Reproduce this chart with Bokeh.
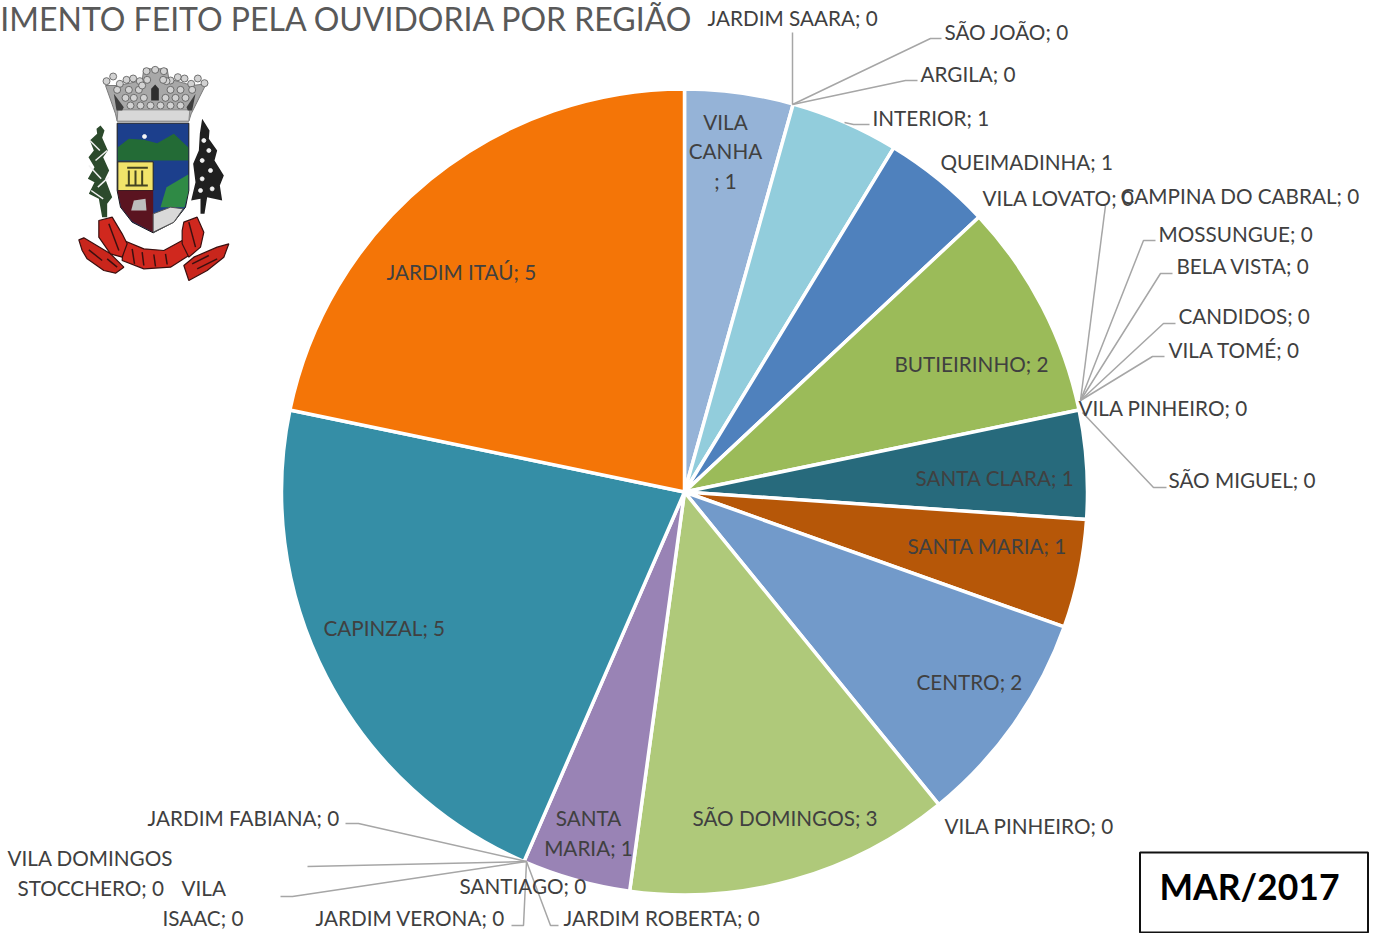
from math import pi
from bokeh.plotting import figure
from bokeh.models import ColumnDataSource, Range1d
from bokeh.core.properties import value
from bokeh.embed import file_html
from bokeh.resources import INLINE

W, H = 1376, 933

# ---- data (clockwise from the top) ----
categories = ["VILA CANHA", "JARDIM SAARA", "SÃO JOÃO", "ARGILA", "INTERIOR", "QUEIMADINHA",
              "VILA LOVATO", "BUTIEIRINHO", "CAMPINA DO CABRAL", "MOSSUNGUE", "BELA VISTA",
              "CANDIDOS", "VILA TOMÉ", "VILA PINHEIRO", "SÃO MIGUEL", "SANTA CLARA",
              "SANTA MARIA", "CENTRO", "VILA PINHEIRO", "SÃO DOMINGOS", "SANTA MARIA",
              "SANTIAGO", "JARDIM ROBERTA", "JARDIM VERONA", "VILA ISAAC",
              "VILA DOMINGOS STOCCHERO", "JARDIM FABIANA", "CAPINZAL", "JARDIM ITAÚ"]
values = [1, 0, 0, 0, 1, 1, 0, 2, 0, 0, 0, 0, 0, 0, 0, 1, 1, 2, 0, 3, 1, 0, 0, 0, 0, 0, 0, 5, 5]
slice_colors = ["#95B3D7", None, None, None, "#92CDDC", "#4F81BD", None, "#9BBB59", None, None,
                None, None, None, None, None, "#276A7C", "#B65708", "#729ACA", None, "#AFC97A",
                "#9983B5", None, None, None, None, None, None, "#358EA6", "#F47507"]
title_text = "IMENTO FEITO PELA OUVIDORIA POR REGIÃO"
period_text = "MAR/2017"

# ---- layout ----
CX, CY, R = 684, 491.5, 403
LABEL_COLOR = "#404040"
LEADER = "#A6A6A6"
FONT = value("Lato")
LABEL_SIZE = "20.7px"
TEXT_DY = 2

label_rows = [
    ("JARDIM SAARA; 0", 707, 19), ("SÃO JOÃO; 0", 944, 33), ("ARGILA; 0", 920, 75),
    ("INTERIOR; 1", 872, 119), ("QUEIMADINHA; 1", 940, 163), ("VILA LOVATO; 0", 982, 199),
    ("CAMPINA DO CABRAL; 0", 1120, 197), ("MOSSUNGUE; 0", 1158, 235), ("BELA VISTA; 0", 1176, 267),
    ("CANDIDOS; 0", 1178, 317), ("VILA TOMÉ; 0", 1168, 351), ("VILA PINHEIRO; 0", 1078, 409),
    ("SÃO MIGUEL; 0", 1168, 481), ("SANTA CLARA; 1", 915, 479), ("SANTA MARIA; 1", 907, 547),
    ("CENTRO; 2", 916, 683), ("VILA PINHEIRO; 0", 944, 827), ("SÃO DOMINGOS; 3", 692, 819),
    ("SANTIAGO; 0", 459, 887), ("JARDIM ROBERTA; 0", 563, 919), ("JARDIM VERONA; 0", 315, 919),
    ("ISAAC; 0", 162, 919), ("STOCCHERO; 0", 17, 889), ("VILA", 181, 889), ("VILA DOMINGOS", 7, 859),
    ("JARDIM FABIANA; 0", 147, 819), ("CAPINZAL; 5", 323, 629), ("JARDIM ITAÚ; 5", 386, 273),
    ("BUTIEIRINHO; 2", 894, 365),
]
center_rows = [("VILA", 725, 123), ("CANHA", 725, 152), ("; 1", 725, 182),
               ("SANTA", 588, 819), ("MARIA; 1", 588, 849)]
leaders = [
    [(792, 104), (792, 32)],
    [(792, 104), (930, 38), (941, 38)],
    [(792, 104), (905, 80), (917, 80)],
    [(844, 122), (853, 124), (869, 124)],
    [(1080, 400), (1105, 205)],
    [(1080, 400), (1143, 240), (1155, 240)],
    [(1080, 400), (1160, 273), (1172, 273)],
    [(1080, 400), (1163, 323), (1175, 323)],
    [(1080, 400), (1152, 356), (1164, 356)],
    [(1082, 412), (1153, 487), (1166, 487)],
    [(526, 861), (358, 823), (345, 823)],
    [(526, 861), (307, 866)],
    [(526, 861), (292, 896), (280, 896)],
    [(526, 861), (523, 925), (511, 925)],
    [(526, 861), (550, 925), (558, 925)],
]


def fy(y):
    return H - y


p = figure(width=W, height=H, output_backend="svg", toolbar_location=None,
           x_range=Range1d(0, W), y_range=Range1d(0, H), min_border=0,
           margin=0, background_fill_color="white", border_fill_color="white")
p.axis.visible = False
p.grid.visible = False
p.outline_line_color = None

# ---- pie ----
total = sum(values)
cum = 0
starts, ends, cols = [], [], []
for v, c in zip(values, slice_colors):
    a = pi / 2 - 2 * pi * cum / total
    b = pi / 2 - 2 * pi * (cum + v) / total
    cum += v
    if v > 0:
        starts.append(a)
        ends.append(b)
        cols.append(c)
src = ColumnDataSource(dict(start=starts, end=ends, color=cols))
p.wedge(x=CX, y=fy(CY), radius=R, start_angle="start", end_angle="end", direction="clock",
        fill_color="color", line_color="white", line_width=3.5, source=src)

# ---- leaders ----
p.multi_line([[q[0] for q in l] for l in leaders], [[fy(q[1]) for q in l] for l in leaders],
             line_color=LEADER, line_width=1.5)

# ---- labels ----
p.text([r[1] for r in label_rows], [fy(r[2] - TEXT_DY) for r in label_rows], text=[r[0] for r in label_rows],
       text_font=FONT, text_font_size=LABEL_SIZE, text_color=LABEL_COLOR,
       text_align="left", text_baseline="middle")
p.text([r[1] for r in center_rows], [fy(r[2] - TEXT_DY) for r in center_rows], text=[r[0] for r in center_rows],
       text_font=FONT, text_font_size=LABEL_SIZE, text_color=LABEL_COLOR,
       text_align="center", text_baseline="middle")

# ---- title ----
p.text([693], [fy(17.5)], text=[title_text], text_font=FONT, text_font_size="32px",
       text_color="#595959", text_align="right", text_baseline="middle")

# ---- period box ----
p.quad(left=1139.5, right=1367.5, top=fy(852), bottom=fy(932), fill_color="white",
       line_color="#111111", line_width=2)
p.text([1249], [fy(888 - TEXT_DY)], text=[period_text], text_font=FONT, text_font_size="35.5px",
       text_font_style="bold", text_color="#000000", text_align="center", text_baseline="middle")


# ---- coat of arms, traced by eye from the zoomed crop ----
def zx(x):
    return 60 + x / 3


def zy(y):
    return fy(50 + y / 3)


def shape(pts, fill, line=None, lw=1.0):
    p.patch([zx(q[0]) for q in pts], [zy(q[1]) for q in pts], fill_color=fill,
            line_color=line, line_width=lw)


def dots(pts, size, fill, line="#555555"):
    p.scatter([zx(q[0]) for q in pts], [zy(q[1]) for q in pts], size=size, fill_color=fill,
              line_color=line, line_width=0.8)


# crown
shape([(165, 190), (135, 105), (175, 105), (245, 90), (250, 55), (320, 55), (325, 85), (395, 105),
       (437, 100), (392, 190), (385, 212), (170, 212)], "#A8A8A8", "#7A7A7A")
dots([(138, 92), (158, 78), (178, 100), (198, 88), (218, 84), (238, 92), (258, 62), (284, 58),
      (310, 62), (330, 90), (352, 80), (372, 84), (392, 100), (412, 84), (432, 98),
      (205, 118), (235, 118), (330, 118), (360, 118), (220, 142), (250, 142), (315, 142), (345, 142),
      (195, 142), (375, 142), (245, 105), (318, 92), (260, 88), (308, 88), (170, 118), (395, 118),
      (210, 165), (240, 165), (270, 165), (300, 165), (330, 165), (360, 165)], 7, "#D2D2D2")
shape([(172, 178), (388, 178), (385, 212), (170, 212)], "#D8D8D8", "#8A8A8A")
shape([(272, 115), (284, 102), (295, 115), (295, 150), (272, 150)], "#2E2E2E")
shape([(160, 130), (190, 170), (185, 180), (168, 180)], "#3E3E3E")
shape([(405, 130), (378, 170), (382, 180), (395, 180)], "#3E3E3E")
# shield
shield = [(170, 218), (385, 218), (385, 420), (375, 470), (340, 515), (278, 547), (215, 515),
          (180, 470), (170, 420)]
shape(shield, "#1C3F8C", "#1A1A1A", 1)
shape([(172, 330), (172, 290), (205, 265), (250, 268), (290, 278), (340, 250), (383, 290), (383, 330)],
      "#236B36")
dots([(252, 258)], 4, "#F5F5F5", "#F5F5F5")
shape([(172, 334), (278, 334), (278, 420), (172, 420)], "#F1E36A", "#222222")
p.multi_line([[zx(q) for q in xs] for xs in ([205, 205], [225, 225], [245, 245], [195, 262], [200, 262])],
             [[zy(q) for q in ys] for ys in ([360, 405], [360, 405], [360, 405], [405, 405], [352, 352])],
             line_color="#444422", line_width=2)
shape([(172, 420), (278, 420), (278, 545), (215, 512), (182, 470), (172, 425)], "#5A1420")
shape([(212, 480), (220, 450), (255, 445), (258, 480)], "#BDBDBD")
shape([(300, 470), (318, 410), (383, 372), (383, 425), (372, 470)], "#2F8A45")
shape([(278, 490), (330, 470), (368, 475), (340, 515), (278, 545)], "#D9D9D9", "#555555")
# plants
shape([(120, 225), (132, 240), (125, 262), (142, 300), (128, 320), (146, 360), (134, 385), (155, 440),
       (140, 460), (140, 500), (125, 500), (115, 445), (85, 430), (102, 395), (82, 385), (102, 350),
       (84, 320), (100, 300), (88, 270), (110, 250), (108, 235)], "#2C4A2C")
p.multi_line([[zx(q) for q in xs] for xs in ([88, 118], [140, 105], [85, 122], [145, 112], [92, 128])],
             [[zy(q) for q in ys] for ys in ([270, 300], [300, 330], [345, 385], [380, 410], [420, 445])],
             line_color="#F2F2F2", line_width=1.5)
shape([(425, 205), (447, 240), (445, 265), (470, 300), (462, 330), (490, 375), (478, 405), (485, 450),
       (440, 440), (432, 490), (420, 490), (420, 445), (392, 450), (405, 395), (398, 340), (415, 300),
       (418, 250)], "#1F1F1F")
dots([(430, 270), (445, 300), (425, 330), (450, 360), (425, 385), (455, 415), (420, 420)], 4, "#F2F2F2", "#F2F2F2")
# ribbon
shape([(55, 568), (70, 562), (150, 610), (190, 650), (165, 668), (130, 660), (80, 625), (65, 600)],
      "#C9261C", "#3A1010", 1.2)
shape([(370, 645), (400, 620), (470, 590), (505, 580), (490, 620), (440, 660), (385, 690)],
      "#C9261C", "#3A1010", 1.2)
shape([(185, 630), (190, 570), (250, 595), (310, 600), (365, 570), (385, 615), (330, 650), (250, 655)],
      "#D0281E", "#3A1010", 1.2)
shape([(115, 510), (155, 500), (185, 550), (200, 580), (185, 620), (150, 610), (115, 560)],
      "#D0281E", "#3A1010", 1.2)
shape([(370, 515), (410, 500), (430, 545), (420, 590), (385, 620), (365, 580), (365, 540)],
      "#D0281E", "#3A1010", 1.2)
p.multi_line([[zx(q) for q in xs] for xs in ([215, 222], [245, 250], [280, 285], [315, 320], [145, 175], [385, 405], [85, 125], [410, 470], [140, 170], [395, 445])],
             [[zy(q) for q in ys] for ys in ([595, 640], [605, 645], [612, 648], [610, 642], [520, 600], [515, 590], [598, 630], [655, 625], [625, 650], [640, 615])],
             line_color="#3A1010", line_width=1.5)

open("out.html", "w").write(file_html(p, INLINE))
